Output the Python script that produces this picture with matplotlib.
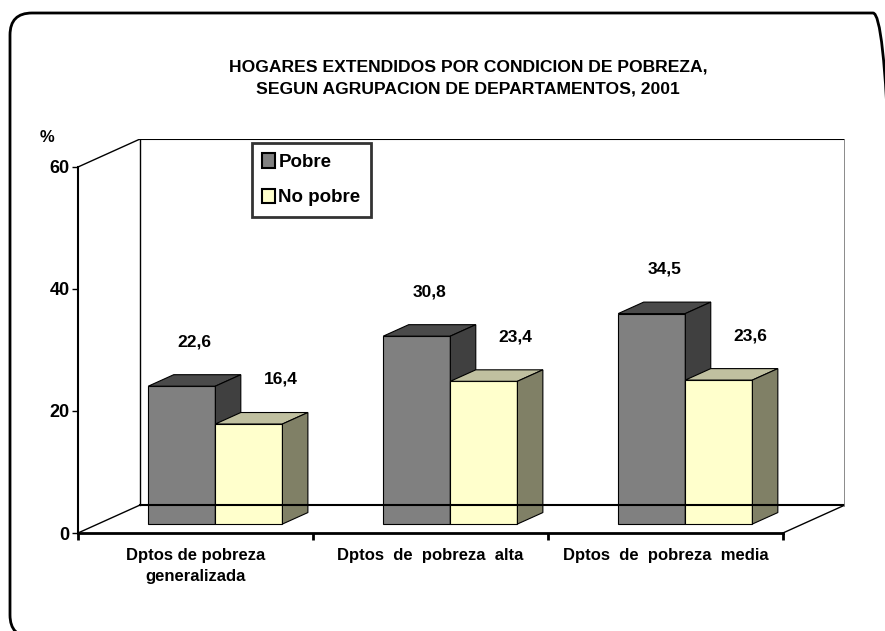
import matplotlib
matplotlib.use("Agg")
import matplotlib.pyplot as plt
from matplotlib.patches import Polygon, Patch, FancyBboxPatch

plt.rcParams['font.family'] = ['Liberation Sans Narrow', 'Liberation Sans', 'DejaVu Sans']
plt.rcParams['font.weight'] = 'bold'

# data
categorias = ["Dptos de pobreza\ngeneralizada", "Dptos  de  pobreza  alta", "Dptos  de  pobreza  media"]
pobre = [22.6, 30.8, 34.5]
no_pobre = [16.4, 23.4, 23.6]
series = ["Pobre", "No pobre"]
yticks = [0, 20, 40, 60]

# colores (frente, arriba, costado)
col = [("#808080", "#4a4a4a", "#404040"),
       ("#FFFFCC", "#C0C0A0", "#808066")]

# perspectiva
DX = 0.2642   # profundidad en unidades de categoria
DY = 4.59     # profundidad en unidades de valor
z0 = 0.32     # donde empiezan las barras
dz = 0.41     # profundidad de las barras
w = 0.2855    # ancho de cada barra
ymax = 60
nc = len(categorias)

fig = plt.figure(figsize=(8.85, 6.31), dpi=100)

# marco redondeado (en pixeles, origen abajo)
bg = fig.add_axes([0, 0, 1, 1])
bg.set_xlim(0, 885)
bg.set_ylim(0, 631)
bg.axis("off")
bg.add_patch(FancyBboxPatch((10, -6), 885, 624,
                            boxstyle="round,pad=0,rounding_size=22",
                            fill=False, ec="black", lw=2, clip_on=True))

ax = fig.add_axes([78/885, 1-533/631, (845-78)/885, (533-139)/631])
ax.set_xlim(0, nc + DX)
ax.set_ylim(0, ymax + DY)
ax.patch.set_visible(False)

# paredes
ax.plot([0, DX], [0, DY], color="black", lw=1)
ax.plot([0, DX], [ymax, ymax+DY], color="black", lw=1)
ax.plot([nc, nc+DX], [0, DY], color="black", lw=1)
ax.plot([DX, DX], [DY, ymax+DY], color="black", lw=1)
ax.plot([DX, nc+DX], [ymax+DY, ymax+DY], color="black", lw=1.5)
ax.plot([DX, nc+DX], [DY, DY], color="black", lw=1.5)
ax.plot([nc+DX, nc+DX], [DY, ymax+DY], color="#808080", lw=2)

base = z0 * DY
ddx = dz * DX
ddy = dz * DY
for i in range(nc):
    for j, vals in enumerate([pobre, no_pobre]):
        v = vals[i]
        x0 = i + 0.5 - w + j*w + z0*DX
        top = base + v
        fr, tp, sd = col[j]
        ax.add_patch(Polygon([(x0, base), (x0+w, base), (x0+w, top), (x0, top)],
                             closed=True, fc=fr, ec="black", lw=0.8))
        ax.add_patch(Polygon([(x0, top), (x0+w, top), (x0+w+ddx, top+ddy), (x0+ddx, top+ddy)],
                             closed=True, fc=tp, ec="black", lw=0.8))
        ax.add_patch(Polygon([(x0+w, base), (x0+w+ddx, base+ddy), (x0+w+ddx, top+ddy), (x0+w, top)],
                             closed=True, fc=sd, ec="black", lw=0.8))
        lx = x0 + w/2 + ddx*(0.5 + 0.75*j)
        ax.text(lx, top + 7.3, f"{v:.1f}".replace(".", ","), ha="center", va="center",
                fontsize=12.5, fontweight="bold")

# ejes
for s in ["top", "right"]:
    ax.spines[s].set_visible(False)
ax.spines["left"].set_bounds(0, ymax)
ax.spines["left"].set_linewidth(1.5)
ax.spines["bottom"].set_bounds(0, nc)
ax.spines["bottom"].set_linewidth(2)
ax.set_yticks(yticks)
ax.set_yticklabels([str(t) for t in yticks], fontsize=13, fontweight="bold")
ax.tick_params(axis="y", length=4, width=1, pad=2)
ax.set_xticks(range(nc + 1))
ax.set_xticklabels([])
ax.tick_params(axis="x", which="major", length=5, width=2)
ax.set_xticks([k + 0.5 for k in range(nc)], minor=True)
ax.set_xticklabels(categorias, minor=True, fontsize=12, fontweight="bold", linespacing=1.45)
ax.tick_params(axis="x", which="minor", length=0, pad=11)

ax.text(-0.13, 64.8, "%", ha="center", va="center", fontsize=12, fontweight="bold", clip_on=False)

fig.text(468/885, 1-78/631,
         "HOGARES EXTENDIDOS POR CONDICION DE POBREZA,\nSEGUN AGRUPACION DE DEPARTAMENTOS, 2001",
         ha="center", va="center", fontsize=12.6, fontweight="bold", linespacing=1.65)

handles = [Patch(fc=col[k][0], ec="black", lw=1.5) for k in range(2)]
leg = fig.legend(handles, series, loc="upper left", bbox_to_anchor=(252/885, 1-143/631),
                 fancybox=False, shadow=False, prop={"size": 13.5, "weight": "bold"},
                 handlelength=0.65, handleheight=0.8, handletextpad=0.2,
                 borderpad=0.55, labelspacing=0.95, borderaxespad=0)
leg.get_frame().set_edgecolor("black")
leg.get_frame().set_linewidth(2)

fig.savefig("out.png", dpi=100)
